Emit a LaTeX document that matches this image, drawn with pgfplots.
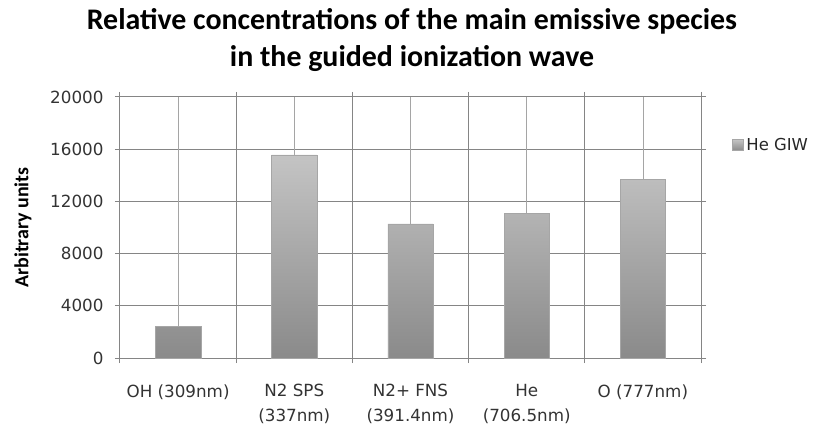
\documentclass[border=0pt]{standalone}
\usepackage{pgfplots}
\pgfplotsset{compat=1.18}
\usepackage{fontspec}
\setmainfont{Carlito}
\newfontfamily\tickfont{DejaVu Sans}
\usetikzlibrary{calc}
\definecolor{gridc}{HTML}{858585}
\definecolor{gridl}{HTML}{A5A5A5}
\definecolor{bartop}{HTML}{C4C4C4}
\definecolor{barbot}{HTML}{8A8A8A}
\begin{document}
\begin{tikzpicture}
\begin{axis}[
  scale only axis, width=581bp, height=261bp,
  xmin=-0.5, xmax=4.5, ymin=0, ymax=20000,
  xtick={-0.5,0.5,...,4.5}, xticklabels={},
  extra x ticks={0,1,2,3,4},
  extra x tick labels={{OH (309nm)},{N2 SPS\\(337nm)},{N2+ FNS\\(391.4nm)},{He\\(706.5nm)},{O (777nm)}},
  extra x tick style={grid=major, major grid style={gridl, line width=0.8bp}, major tick length=0pt,
    xticklabel style={yshift=-23bp}},
  ytick={0,4000,...,20000},
  scaled y ticks=false,
  /pgf/number format/.cd, 1000 sep={}, assume math mode=true, /pgfplots/.cd,
  xmajorgrids, ymajorgrids,
  grid style={gridc, line width=1bp},
  axis line style={gridc, line width=1bp},
  tick style={gridc, line width=1bp},
  tick align=center, major tick length=10bp,
  tick label style={font=\tickfont\fontsize{16.8}{25}\selectfont, text=black!80},
  xticklabel style={align=center},
  yticklabel style={xshift=-8bp},
  legend style={draw=none, fill=none, at={(1.053,0.816)}, anchor=west, inner sep=0pt,
    nodes={inner sep=3bp},
    font=\tickfont\fontsize{16.5}{20}\selectfont, text=black!85},
  legend image code/.code={\fill[draw=gray!70,top color=bartop,bottom color=barbot] (0bp,-5.5bp) rectangle (11bp,5.5bp);},
]
\addplot[ybar, bar width=0.39, draw=gray!70, top color=bartop, bottom color=barbot]
  coordinates {(0,2430) (1,15560) (2,10280) (3,11090) (4,13700)};
\addlegendentry{He GIW}
\end{axis}
\node[rotate=90, font=\bfseries\fontsize{20}{24}\selectfont] at ($(current axis.west)+(-97bp,0)$) {Arbitrary units};
\node[anchor=base, font=\bfseries\fontsize{30}{36}\selectfont] at ($(current axis.north)+(1.5bp,67bp)$) {Relative concentrations of the main emissive species};
\node[anchor=base, font=\bfseries\fontsize{30}{36}\selectfont] at ($(current axis.north)+(1.5bp,30bp)$) {in the guided ionization wave};
\pgfresetboundingbox
\path[use as bounding box] ($(current axis.south west)+(-120bp,-71bp)$) rectangle ($(current axis.north east)+(116bp,97bp)$);
\end{tikzpicture}
\end{document}
